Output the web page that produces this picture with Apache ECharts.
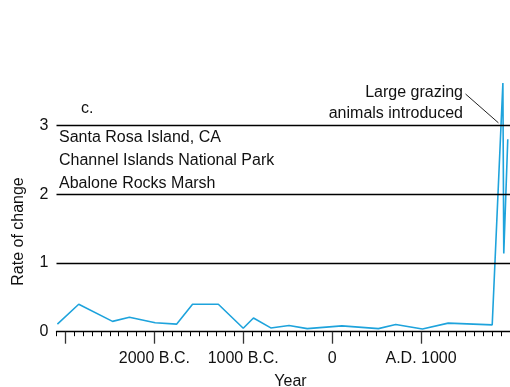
<!DOCTYPE html>
<html>
<head>
<meta charset="utf-8">
<script src="https://cdn.jsdelivr.net/npm/echarts@6/dist/echarts.min.js"></script>
<style>
  html, body { margin: 0; padding: 0; background: #fff; }
  #chart { width: 510px; height: 387px; }
</style>
</head>
<body>
<div id="chart"></div>
<script>
// Sediment record, Abalone Rocks Marsh: rate of change through time
const years = [-3090, -2850, -2470, -2280, -1990, -1750, -1570, -1280, -1000, -885, -690, -485, -280, 110, 520, 715, 1015, 1305, 1800, 1920, 1930, 1975];
const rates = [0.11, 0.40, 0.15, 0.21, 0.13, 0.11, 0.40, 0.40, 0.05, 0.20, 0.055, 0.09, 0.045, 0.085, 0.045, 0.105, 0.04, 0.125, 0.10, 3.62, 1.14, 2.80];

const yearLabels = [-2000, -1000, 0, 1000];
const longTickYears = [-3000, -2000, -1000, 0, 1000];
const rateLabels = [0, 1, 2, 3];
const gridRates = [1, 2, 3];

const X_MIN = -3100, X_MAX = 2000, CENTURY = 100;
// short ticks every century along the time axis
const centuryTicks = [];
for (let t = X_MIN; t <= X_MAX; t += CENTURY) centuryTicks.push(t);

// leader from the note to the rise in the record
const noteLeader = [[1500, 3.46], [1870, 3.04]];

function yearText(v) {
  if (v < 0) return (-v) + ' B.C.';
  if (v === 0) return '0';
  return 'A.D. ' + v;
}

const FONT = '"Liberation Sans", Arial, Helvetica, sans-serif';
const chart = echarts.init(document.getElementById('chart'), null, { renderer: 'canvas' });

chart.setOption({
  animation: false,
  backgroundColor: '#fff',
  textStyle: { fontFamily: FONT },
  grid: { left: 56.5, top: 77.5, width: 455.8, height: 254.2 },
  xAxis: [
    {
      type: 'value',
      min: X_MIN,
      max: X_MAX,
      interval: CENTURY,
      axisLine: { show: true, lineStyle: { color: '#000', width: 1.3 } },
      axisTick: { show: true, customValues: centuryTicks, length: 4.5, lineStyle: { color: '#000', width: 1 } },
      axisLabel: {
        customValues: yearLabels,
        formatter: yearText,
        fontSize: 16,
        color: '#111',
        fontFamily: FONT,
        margin: 19
      },
      splitLine: { show: false }
    },
    {
      type: 'value',
      min: X_MIN,
      max: X_MAX,
      position: 'bottom',
      axisLine: { show: false },
      axisTick: { show: true, customValues: longTickYears, length: 12, lineStyle: { color: '#333', width: 1.3 } },
      axisLabel: { show: false },
      splitLine: { show: false }
    }
  ],
  yAxis: {
    type: 'value',
    min: 0,
    max: 3.7,
    interval: 1,
    axisLine: { show: false },
    axisTick: { show: false },
    splitLine: { show: false },
    axisLabel: {
      customValues: rateLabels,
      fontSize: 16,
      color: '#111',
      fontFamily: FONT,
      margin: 8
    }
  },
  series: [{
    type: 'line',
    xAxisIndex: 0,
    data: years.map((y, i) => [y, rates[i]]),
    showSymbol: false,
    symbol: 'none',
    lineStyle: { color: '#1ea3dc', width: 1.6 },
    markLine: {
      silent: true,
      symbol: 'none',
      label: { show: false },
      lineStyle: { color: '#000', width: 1.3, type: 'solid' },
      data: gridRates.map(v => ({ yAxis: v })).concat([[
        { coord: noteLeader[0], lineStyle: { color: '#222', width: 1 } },
        { coord: noteLeader[1] }
      ]])
    }
  }],
  graphic: [
    { type: 'text', left: 81, top: 101, style: { text: 'c.', fontSize: 16, fontFamily: FONT, fill: '#111' } },
    { type: 'text', left: 59, top: 130, style: { text: 'Santa Rosa Island, CA', fontSize: 16, fontFamily: FONT, fill: '#111' } },
    { type: 'text', left: 59, top: 153, style: { text: 'Channel Islands National Park', fontSize: 16, fontFamily: FONT, fill: '#111' } },
    { type: 'text', left: 59, top: 176, style: { text: 'Abalone Rocks Marsh', fontSize: 16, fontFamily: FONT, fill: '#111' } },
    { type: 'text', x: 463, y: 93, style: { text: 'Large grazing', fontSize: 16, fontFamily: FONT, fill: '#111', align: 'right', verticalAlign: 'middle' } },
    { type: 'text', x: 463, y: 114, style: { text: 'animals introduced', fontSize: 16, fontFamily: FONT, fill: '#111', align: 'right', verticalAlign: 'middle' } },
    { type: 'text', x: 290.5, y: 382, style: { text: 'Year', fontSize: 16, fontFamily: FONT, fill: '#111', align: 'center', verticalAlign: 'middle' } },
    { type: 'text', x: 18.3, y: 231.5, rotation: Math.PI / 2, style: { text: 'Rate of change', fontSize: 16, fontFamily: FONT, fill: '#111', align: 'center', verticalAlign: 'middle' } }
  ]
});
</script>
</body>
</html>
